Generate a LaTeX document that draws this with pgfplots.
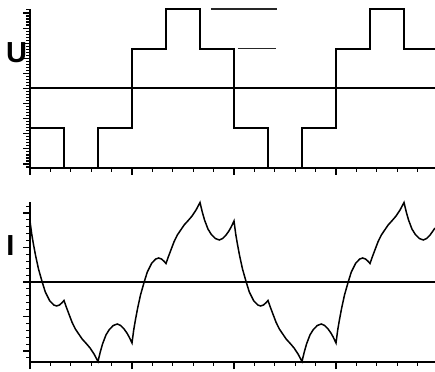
\documentclass[border=0pt]{standalone}
\usepackage{pgfplots}
\pgfplotsset{compat=1.18}
\usepackage{fontspec}
\setmainfont{Liberation Sans}
\pgfplotstableread{
x y
0 -40
60 -80
120 -40
180 40
240 80
300 40
360 -40
420 -80
480 -40
540 40
600 80
660 40
714.7 40
}\voltage
\pgfplotstableread{
x y
0 61
3 48
6 38
10 26
15 13
21.5 0
27 -10
35 -19
42 -23
47 -24
52 -23
56 -21
60 -18.5
64 -25
68 -31
74 -40
80 -47
86 -52
92 -57
100 -62
106 -66
113 -72
120 -79.5
124 -70
128 -62
134 -53
140 -47.5
147 -43.5
154 -42
160 -43.5
166 -47
171 -51
175 -55
180 -61
183 -48
186 -38
190 -26
195 -13
201.5 0
207 10
215 19
222 23
227 24
232 23
236 21
240 18.5
244 25
248 31
254 40
260 47
266 52
272 57
280 62
286 66
293 72
300 79.5
304 70
308 62
314 53
320 47.5
327 43.5
334 42
340 43.5
346 47
351 51
355 55
360 61
363 48
366 38
370 26
375 13
381.5 0
387 -10
395 -19
402 -23
407 -24
412 -23
416 -21
420 -18.5
424 -25
428 -31
434 -40
440 -47
446 -52
452 -57
460 -62
466 -66
473 -72
480 -79.5
484 -70
488 -62
494 -53
500 -47.5
507 -43.5
514 -42
520 -43.5
526 -47
531 -51
535 -55
540 -61
543 -48
546 -38
550 -26
555 -13
561.5 0
567 10
575 19
582 23
587 24
592 23
596 21
600 18.5
604 25
608 31
614 40
620 47
626 52
632 57
640 62
646 66
653 72
660 79.5
664 70
668 62
674 53
680 47.5
687 43.5
694 42
700 43.5
706 47
711 51
714.7 54
}\current
\pgfplotsset{
  myax/.style={
    scale only axis,
    width=405pt,
    xmin=0, xmax=714.7,
    ymin=-80, ymax=80,
    axis x line=bottom,
    axis y line=left,
    axis line style={-, line width=1.5pt, black},
    xtick={0,180,360,540},
    minor xtick={36,72,108,144,216,252,288,324,396,432,468,504,576,612,648,684},
    xticklabels={}, yticklabels={},
    tick align=outside,
    major tick length=7pt,
    minor tick length=4pt,
    every tick/.style={black, line width=1.1pt},
    clip=false,
  }
}
\begin{document}
\begin{tikzpicture}[x=1pt,y=1pt]
\useasboundingbox (0,0) rectangle (435,371);
% Top: voltage
\begin{axis}[myax, at={(30pt,203pt)}, anchor=south west, height=159pt,
  ytick={-76,-60.8,-45.6,-30.4,-15.2,0,15.2,30.4,45.6,60.8,76},
  minor ytick={-79.04,-76,...,79.04}]
\addplot[black, line width=1.7pt, const plot] table[x=x,y=y] {\voltage};
\addplot[black, line width=1.9pt] coordinates {(0,0.5) (714.7,0.5)};
\addplot[black!85, line width=1.1pt] coordinates {(319.4,80) (435.9,80)};
\addplot[black!85, line width=1.1pt] coordinates {(367,40) (434.1,40)};
\end{axis}
% Bottom: current
\begin{axis}[myax, at={(30pt,9pt)}, anchor=south west, height=160pt,
  ytick={-69,-34.5,0,34.5,69},
  minor ytick={-75.9,-62.1,-55.2,-48.3,-41.4,-27.6,-20.7,-13.8,-6.9,6.9,13.8,20.7,27.6,41.4,48.3,55.2,62.1,75.9}]
\addplot[black, line width=1.5pt] table[x=x,y=y] {\current};
\addplot[black, line width=1.6pt] coordinates {(0,0) (714.7,0)};
\end{axis}
\node[font=\fontsize{29}{30}\selectfont\bfseries] at (16.5,318.5) {U};
\node[font=\fontsize{29}{30}\selectfont\bfseries] at (10.5,125) {I};
\end{tikzpicture}
\end{document}
